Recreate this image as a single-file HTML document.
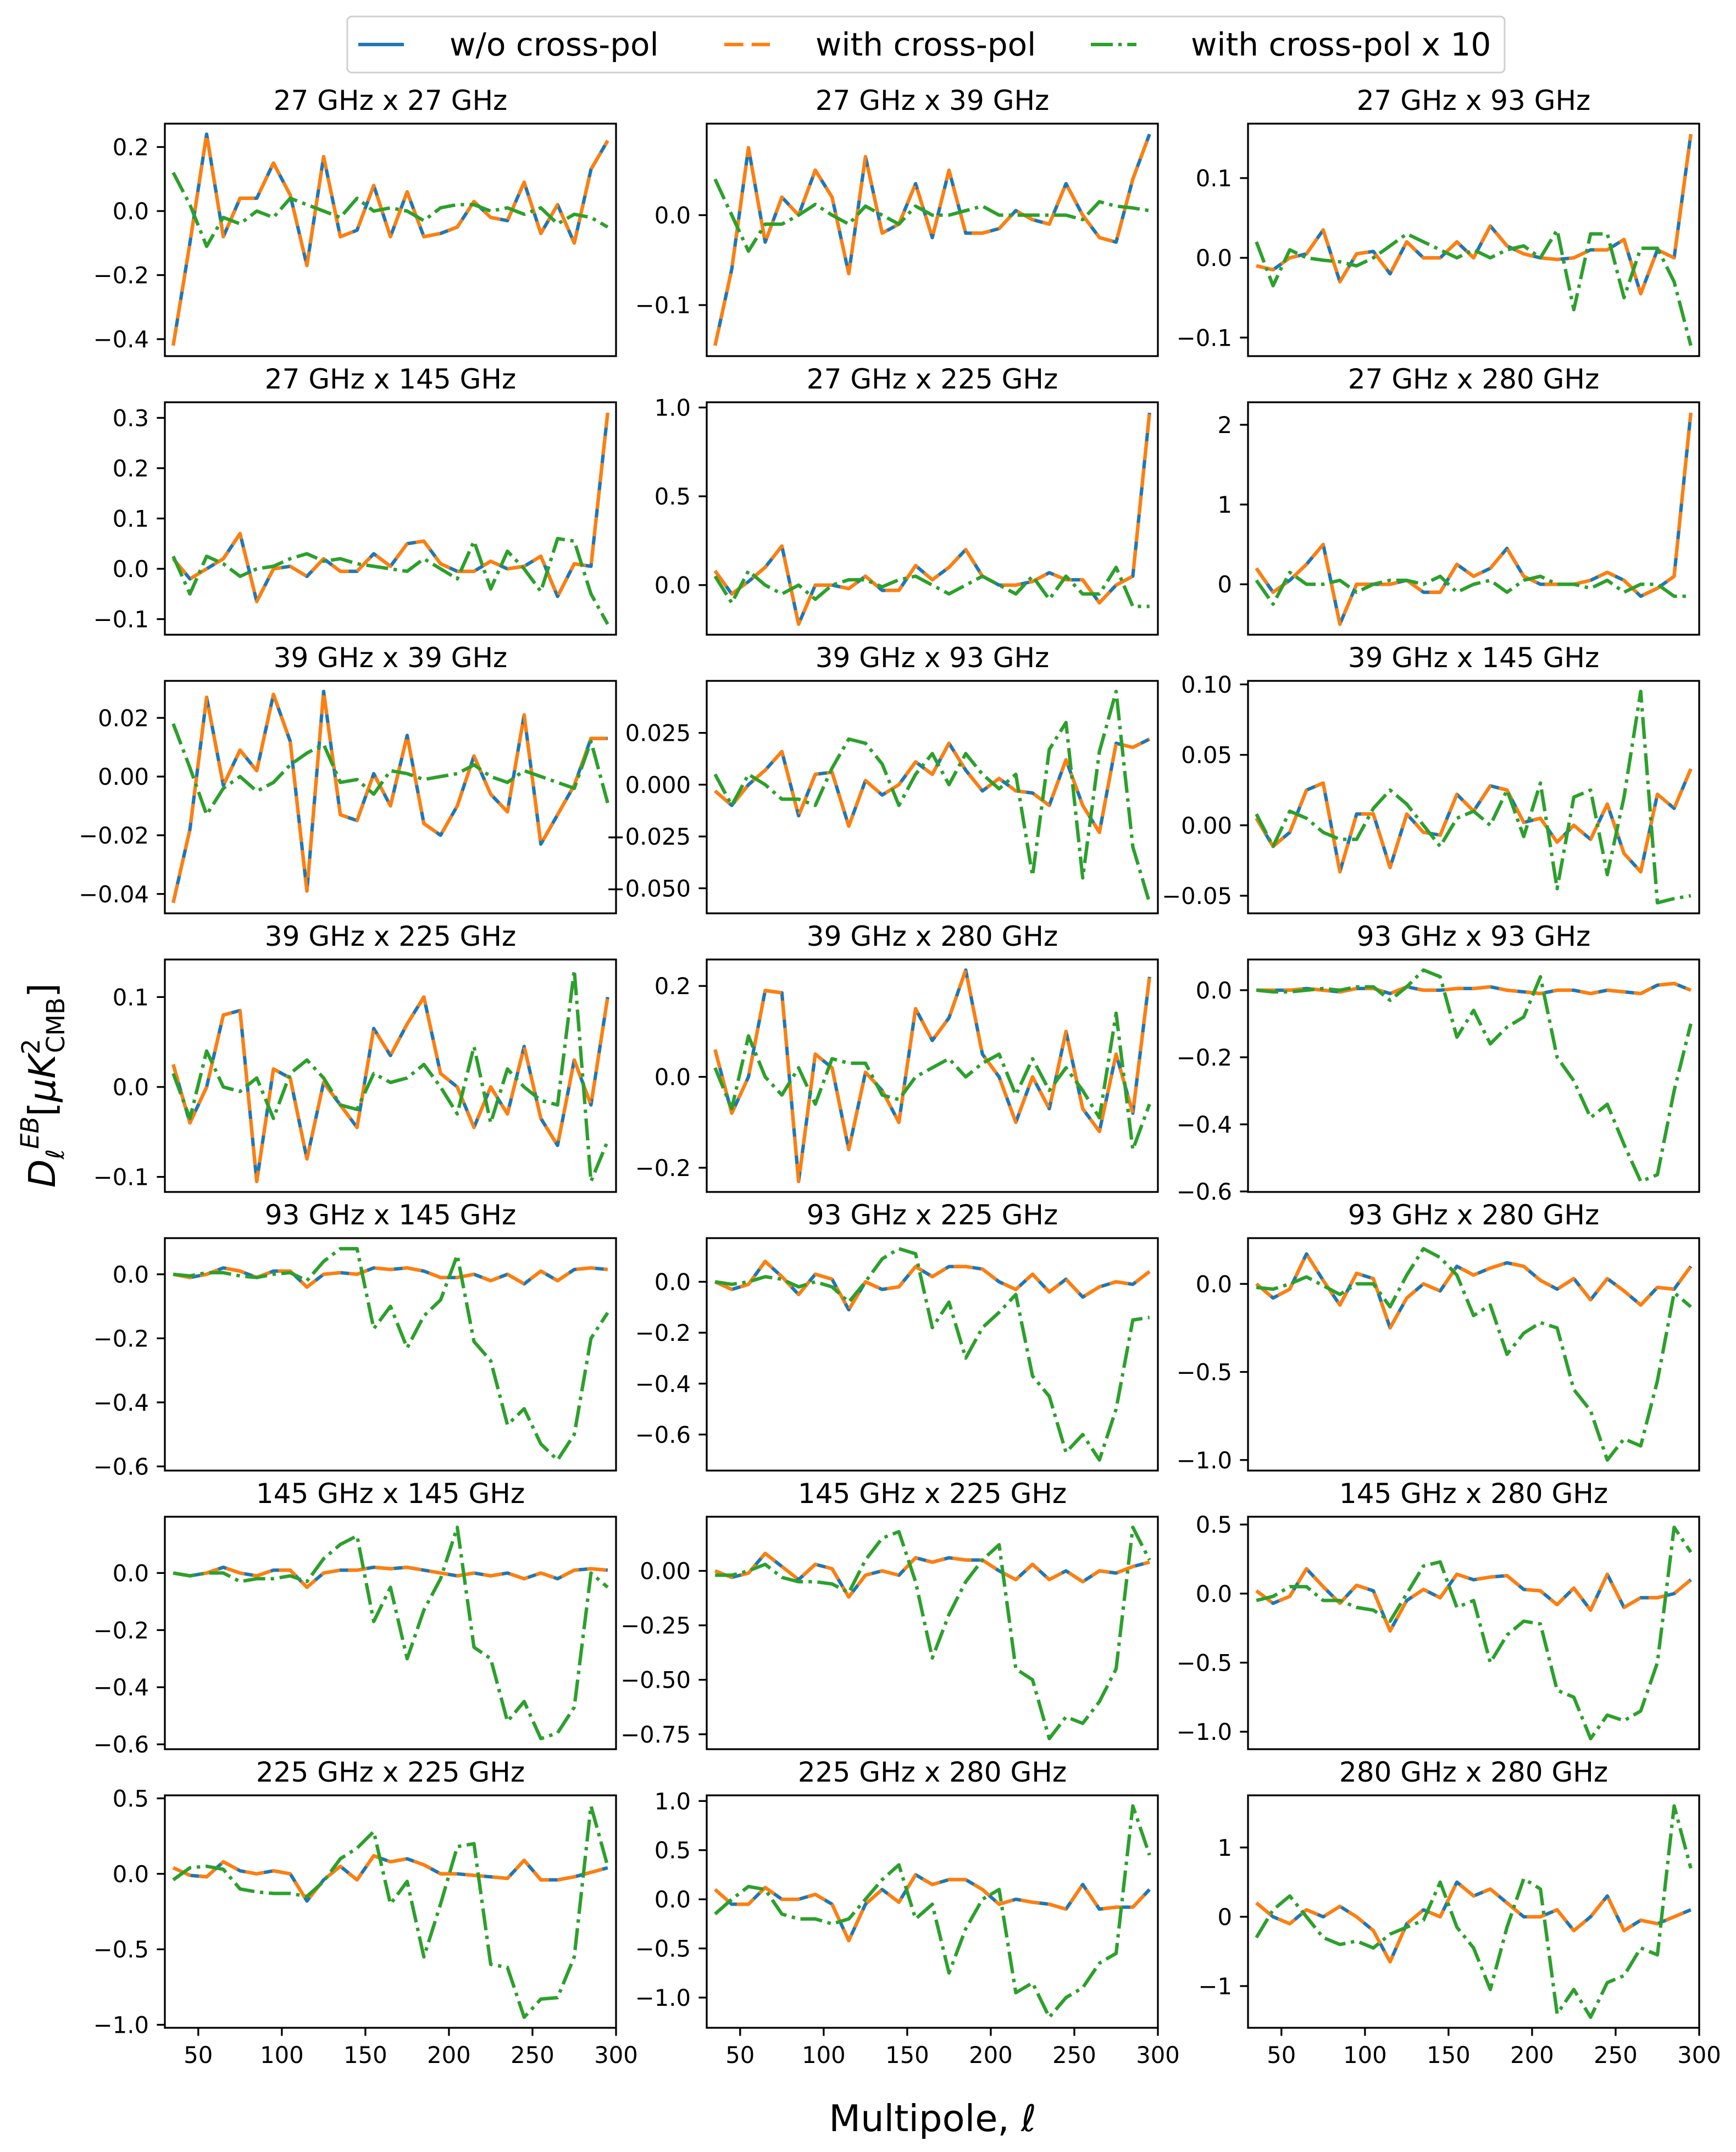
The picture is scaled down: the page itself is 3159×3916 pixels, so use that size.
<!DOCTYPE html>
<html><head><meta charset="utf-8"><style>
html,body{margin:0;padding:0;background:#fff;}
svg{display:block;font-family:"DejaVu Sans","Liberation Sans",sans-serif;}
</style></head><body>
<svg id="fig" width="3159" height="3916" viewBox="0 0 3159 3916" xmlns="http://www.w3.org/2000/svg">
<rect x="0" y="0" width="3159" height="3916" fill="#fff"/>
<g>
<rect x="632" y="30" width="2106" height="102" rx="8" fill="#fff" stroke="#d0d0d0" stroke-width="3"/>
<line x1="652" y1="81" x2="735" y2="81" stroke="#1f77b4" stroke-width="6.25"/>
<text x="818" y="101" font-size="58">w/o cross-pol</text>
<line x1="1318" y1="81" x2="1401" y2="81" stroke="#ff7f0e" stroke-width="6.25" stroke-dasharray="34.7 15"/>
<text x="1484" y="101" font-size="58">with cross-pol</text>
<line x1="1985" y1="81" x2="2068" y2="81" stroke="#2ca02c" stroke-width="6.25" stroke-dasharray="40 10 6.25 10"/>
<text x="2167" y="101" font-size="58">with cross-pol x 10</text>
</g>
<text x="1697" y="3878" font-size="67" text-anchor="middle">Multipole, <tspan font-style="italic">ℓ</tspan></text>
<text transform="translate(100,1975) rotate(-90)" font-size="67" text-anchor="middle"><tspan font-style="italic">D</tspan><tspan font-size="45" dy="16" font-style="italic">ℓ</tspan><tspan font-size="45" dy="-46" font-style="italic">EB</tspan><tspan dy="30">[</tspan><tspan font-style="italic">μK</tspan><tspan font-size="45" dy="-28">2</tspan><tspan font-size="45" dx="-26" dy="45">CMB</tspan><tspan dy="-17">]</tspan></text>
</svg>
<script>
const panelTitles = ["27 GHz x 27 GHz","27 GHz x 39 GHz","27 GHz x 93 GHz","27 GHz x 145 GHz","27 GHz x 225 GHz","27 GHz x 280 GHz","39 GHz x 39 GHz","39 GHz x 93 GHz","39 GHz x 145 GHz","39 GHz x 225 GHz","39 GHz x 280 GHz","93 GHz x 93 GHz","93 GHz x 145 GHz","93 GHz x 225 GHz","93 GHz x 280 GHz","145 GHz x 145 GHz","145 GHz x 225 GHz","145 GHz x 280 GHz","225 GHz x 225 GHz","225 GHz x 280 GHz","280 GHz x 280 GHz"];
const multipoles = [35,45,55,65,75,85,95,105,115,125,135,145,155,165,175,185,195,205,215,225,235,245,255,265,275,285,295];
const xTickValues = [50,100,150,200,250,300];
const xTickLabels = ["50","100","150","200","250","300"];
const yTickLabels = [
["−0.4","−0.2","0.0","0.2"],["−0.1","0.0"],["−0.1","0.0","0.1"],["−0.1","0.0","0.1","0.2","0.3"],["0.0","0.5","1.0"],["0","1","2"],
["−0.04","−0.02","0.00","0.02"],["−0.050","−0.025","0.000","0.025"],["−0.05","0.00","0.05","0.10"],["−0.1","0.0","0.1"],["−0.2","0.0","0.2"],["−0.6","−0.4","−0.2","0.0"],
["−0.6","−0.4","−0.2","0.0"],["−0.6","−0.4","−0.2","0.0"],["−1.0","−0.5","0.0"],["−0.6","−0.4","−0.2","0.0"],["−0.75","−0.50","−0.25","0.00"],["−1.0","−0.5","0.0","0.5"],
["−1.0","−0.5","0.0","0.5"],["−1.0","−0.5","0.0","0.5","1.0"],["−1","0","1"]];
const seriesWithout = [
[-0.42,-0.1,0.24,-0.08,0.04,0.04,0.15,0.05,-0.17,0.17,-0.08,-0.06,0.08,-0.08,0.06,-0.08,-0.07,-0.05,0.03,-0.02,-0.03,0.09,-0.07,0.02,-0.10,0.13,0.22],
[-0.145,-0.06,0.075,-0.03,0.02,0.0,0.05,0.02,-0.065,0.065,-0.02,-0.01,0.035,-0.025,0.05,-0.02,-0.02,-0.015,0.005,-0.005,-0.01,0.035,0.0,-0.025,-0.03,0.04,0.09],
[-0.01,-0.015,0.0,0.005,0.035,-0.03,0.005,0.008,-0.02,0.02,0.0,0.0,0.02,0.0,0.04,0.015,0.005,0.0,-0.002,0.0,0.01,0.01,0.023,-0.045,0.01,0.0,0.155],
[0.02,-0.02,0.0,0.02,0.07,-0.065,0.0,0.005,-0.015,0.02,-0.005,-0.005,0.03,0.005,0.05,0.055,0.01,-0.005,-0.005,0.015,0.0,0.005,0.025,-0.055,0.01,0.005,0.31],
[0.08,-0.05,0.02,0.1,0.22,-0.22,0.0,0.0,-0.02,0.05,-0.03,-0.03,0.11,0.03,0.1,0.2,0.05,0.0,0.0,0.02,0.07,0.03,0.03,-0.1,0.0,0.05,0.97],
[0.2,-0.1,0.05,0.25,0.5,-0.5,0.0,0.0,0.0,0.05,-0.1,-0.1,0.25,0.1,0.2,0.45,0.1,0.0,0.0,0.0,0.05,0.15,0.05,-0.15,-0.05,0.1,2.15],
[-0.043,-0.018,0.027,-0.003,0.009,0.002,0.028,0.012,-0.039,0.029,-0.013,-0.015,0.001,-0.01,0.014,-0.016,-0.02,-0.01,0.007,-0.006,-0.012,0.021,-0.023,-0.013,-0.003,0.013,0.013],
[-0.003,-0.01,0.0,0.007,0.016,-0.015,0.005,0.006,-0.02,0.002,-0.005,0.0,0.011,0.005,0.02,0.007,-0.003,0.003,-0.003,-0.004,-0.01,0.012,-0.01,-0.023,0.02,0.018,0.022],
[0.005,-0.015,-0.005,0.025,0.03,-0.033,0.008,0.008,-0.03,0.008,-0.005,-0.007,0.022,0.01,0.028,0.025,0.002,0.005,-0.012,0.0,-0.01,0.015,-0.02,-0.033,0.022,0.012,0.04],
[0.025,-0.04,0.0,0.08,0.085,-0.105,0.02,0.01,-0.08,0.005,-0.02,-0.045,0.065,0.035,0.07,0.1,0.015,0.0,-0.045,0.0,-0.03,0.045,-0.035,-0.065,0.03,-0.02,0.1],
[0.06,-0.08,0.0,0.19,0.185,-0.23,0.05,0.02,-0.16,0.01,-0.03,-0.1,0.15,0.08,0.13,0.235,0.05,0.0,-0.1,0.0,-0.07,0.1,-0.07,-0.12,0.05,-0.08,0.22],
[0,0,0,0.005,0,-0.005,0.005,0.005,-0.01,0.01,0.0,0.0,0.005,0.005,0.01,0.0,-0.005,-0.01,0.0,0.0,-0.01,0.0,-0.005,-0.01,0.015,0.02,0.0],
[0,-0.01,0.0,0.02,0.01,-0.01,0.01,0.01,-0.04,0.0,0.005,0.0,0.02,0.015,0.02,0.01,-0.01,-0.01,0.0,-0.02,0.0,-0.03,0.01,-0.02,0.015,0.02,0.015],
[0.0,-0.03,-0.01,0.08,0.02,-0.05,0.03,0.01,-0.11,0.0,-0.03,-0.02,0.06,0.02,0.06,0.06,0.05,0.0,-0.03,0.03,-0.04,0.01,-0.06,-0.02,0.0,-0.01,0.04],
[0.0,-0.08,-0.03,0.17,0.02,-0.12,0.06,0.03,-0.25,-0.08,0.0,-0.04,0.1,0.05,0.09,0.12,0.1,0.02,-0.03,0.03,-0.09,0.03,-0.04,-0.12,-0.02,-0.03,0.1],
[0.0,-0.01,0.0,0.02,0.0,-0.01,0.01,0.01,-0.05,0.0,0.01,0.01,0.02,0.015,0.02,0.01,0.0,-0.01,0.0,-0.01,0.0,-0.02,0.0,-0.02,0.01,0.015,0.01],
[0.0,-0.03,-0.01,0.08,0.02,-0.04,0.03,0.01,-0.12,-0.02,0.0,-0.02,0.06,0.04,0.06,0.05,0.05,0.0,-0.04,0.03,-0.04,0.0,-0.05,0.0,-0.01,0.02,0.04],
[0.02,-0.07,-0.02,0.18,0.05,-0.07,0.06,0.02,-0.27,-0.05,0.03,-0.03,0.14,0.1,0.12,0.13,0.03,0.02,-0.08,0.04,-0.12,0.14,-0.1,-0.03,-0.03,0.0,0.1],
[0.04,-0.01,-0.02,0.08,0.02,0.0,0.02,0.0,-0.18,-0.04,0.05,-0.04,0.12,0.08,0.1,0.06,0.0,0.0,-0.01,-0.02,-0.03,0.09,-0.04,-0.04,-0.02,0.01,0.04],
[0.1,-0.05,-0.05,0.12,0.0,0.0,0.05,-0.05,-0.42,-0.05,0.1,-0.03,0.25,0.15,0.2,0.2,0.1,-0.05,0.0,-0.03,-0.05,-0.1,0.15,-0.1,-0.08,-0.08,0.1],
[0.2,0.0,-0.1,0.1,0.0,0.15,0.0,-0.2,-0.65,-0.1,0.1,0.0,0.5,0.3,0.4,0.2,0.0,0.0,0.1,-0.2,0.0,0.3,-0.2,-0.05,-0.1,0.0,0.1]];
const seriesWith = seriesWithout.map(function(a){return a.slice();});
const seriesWithX10 = [
[0.12,0.02,-0.11,-0.02,-0.04,0.0,-0.02,0.04,0.02,0.0,-0.02,0.04,0.0,0.01,0.0,-0.03,0.01,0.02,0.02,0.0,0.01,-0.01,0.01,-0.04,-0.01,-0.02,-0.05],
[0.04,0.0,-0.04,-0.01,-0.01,0.0,0.012,0.0,-0.01,0.01,0.0,-0.01,0.01,0.0,0.0,0.005,0.01,0.0,0.0,0.0,0.0,0.0,-0.005,0.015,0.01,0.008,0.005],
[0.02,-0.035,0.01,0.0,-0.003,-0.005,-0.01,0.0,0.015,0.03,0.02,0.01,0.0,0.01,0.0,0.01,0.015,0.0,0.035,-0.065,0.03,0.03,-0.05,0.012,0.012,-0.03,-0.11],
[0.025,-0.05,0.025,0.01,-0.015,0.0,0.005,0.02,0.03,0.015,0.02,0.01,0.005,0.0,-0.005,0.02,0.0,-0.02,0.055,-0.04,0.035,0.0,-0.045,0.06,0.055,-0.05,-0.11],
[0.05,-0.1,0.08,0.0,-0.05,0.0,-0.08,0.0,0.03,0.03,-0.01,0.03,0.05,0.0,-0.05,0.0,0.05,0.0,-0.05,0.05,-0.08,0.05,-0.05,-0.05,0.1,-0.12,-0.12],
[0.05,-0.25,0.15,0.0,0.0,0.05,-0.1,0.0,0.05,0.05,0.0,0.1,-0.1,0.0,0.05,-0.1,0.05,0.1,0.0,0.0,-0.05,0.05,-0.1,0.0,0.0,-0.15,-0.15],
[0.018,0.003,-0.013,-0.004,0.0,-0.005,-0.002,0.004,0.008,0.011,-0.002,-0.001,-0.006,0.002,0.001,-0.001,0.0,0.001,0.004,0.0,-0.002,0.002,0.0,-0.002,-0.004,0.012,-0.009],
[0.005,-0.01,0.005,0.0,-0.007,-0.007,-0.01,0.008,0.022,0.02,0.01,-0.01,0.005,0.015,0.0,0.015,0.005,-0.002,0.005,-0.044,0.017,0.03,-0.045,0.016,0.045,-0.03,-0.057],
[0.008,-0.015,0.01,0.005,-0.005,-0.01,-0.01,0.012,0.025,0.015,0.0,-0.015,0.005,0.01,0.0,0.025,-0.008,0.03,-0.045,0.02,0.025,-0.035,0.02,0.095,-0.055,-0.052,-0.05],
[0.015,-0.035,0.04,0.0,-0.005,0.01,-0.035,0.015,0.03,0.01,-0.02,-0.025,0.015,0.005,0.01,0.025,0.0,-0.03,0.045,-0.04,0.02,0.0,-0.015,-0.02,0.13,-0.105,-0.06],
[0.02,-0.07,0.09,0.0,-0.04,0.02,-0.06,0.04,0.03,0.03,-0.04,-0.05,0.0,0.02,0.04,0.0,0.03,0.05,-0.04,0.04,-0.03,0.02,-0.03,-0.09,0.14,-0.16,-0.06],
[0.0,-0.005,-0.005,0.0,0.005,0.0,0.01,0.01,-0.03,0.01,0.06,0.04,-0.14,-0.06,-0.16,-0.11,-0.08,0.04,-0.2,-0.27,-0.38,-0.34,-0.46,-0.57,-0.55,-0.3,-0.1],
[0.0,-0.005,0.005,0.005,-0.005,-0.01,0.0,0.005,-0.02,0.04,0.08,0.08,-0.17,-0.1,-0.23,-0.13,-0.08,0.06,-0.21,-0.27,-0.47,-0.42,-0.53,-0.58,-0.5,-0.2,-0.12],
[0.0,-0.01,0.0,0.02,0.01,-0.02,0.0,-0.02,-0.08,0.0,0.09,0.13,0.11,-0.18,-0.08,-0.3,-0.18,-0.12,-0.05,-0.37,-0.45,-0.67,-0.6,-0.7,-0.5,-0.15,-0.14],
[-0.02,-0.03,0.0,0.04,-0.01,-0.06,0.0,0.0,-0.13,0.05,0.2,0.15,0.05,-0.18,-0.12,-0.4,-0.28,-0.22,-0.25,-0.6,-0.72,-1.0,-0.88,-0.92,-0.55,-0.05,-0.13],
[0.0,-0.01,0.0,0.0,-0.03,-0.02,-0.02,-0.01,-0.03,0.05,0.1,0.13,-0.17,-0.05,-0.3,-0.13,-0.02,0.16,-0.26,-0.3,-0.52,-0.45,-0.58,-0.56,-0.47,0.0,-0.05],
[-0.02,-0.02,0.0,0.03,-0.03,-0.05,-0.05,-0.06,-0.1,0.05,0.15,0.18,-0.05,-0.4,-0.2,-0.05,0.05,0.12,-0.45,-0.5,-0.77,-0.67,-0.7,-0.6,-0.45,0.2,0.05],
[-0.05,-0.02,0.05,0.05,-0.05,-0.05,-0.1,-0.12,-0.2,0.0,0.2,0.23,-0.1,-0.05,-0.5,-0.3,-0.2,-0.22,-0.7,-0.75,-1.05,-0.88,-0.92,-0.85,-0.5,0.48,0.3],
[-0.04,0.04,0.05,0.03,-0.1,-0.12,-0.13,-0.13,-0.15,-0.05,0.1,0.17,0.28,-0.2,-0.05,-0.55,-0.2,0.18,0.2,-0.6,-0.62,-0.95,-0.83,-0.82,-0.55,0.45,0.05],
[-0.15,0.0,0.13,0.1,-0.15,-0.2,-0.2,-0.25,-0.2,0.0,0.2,0.35,-0.2,-0.05,-0.75,-0.3,0.0,0.1,-0.95,-0.85,-1.2,-1.0,-0.9,-0.65,-0.55,0.95,0.45],
[-0.3,0.1,0.3,0.0,-0.3,-0.4,-0.35,-0.45,-0.25,-0.15,-0.05,0.5,-0.15,-0.45,-1.05,-0.15,0.55,0.4,-1.4,-1.05,-1.45,-0.95,-0.85,-0.45,-0.55,1.6,0.7]];

const NS='http://www.w3.org/2000/svg';
const fig=document.getElementById('fig');
const colLeft=[300,1286,2271], axW=821, axH=423, rowTop0=225, rowPitch=507;
const xMin=30,xMax=300;
function mk(tag,attrs,parent){const e=document.createElementNS(NS,tag);for(const k in attrs)e.setAttribute(k,attrs[k]);parent.appendChild(e);return e;}
function parseLab(s){return parseFloat(s.replace('−','-'));}

for(let p=0;p<21;p++){
  const r=Math.floor(p/3), c=p%3;
  const L=colLeft[c], T=rowTop0+r*rowPitch;
  const g=mk('g',{},fig);
  
  
  const all=[].concat(seriesWithout[p],seriesWith[p],seriesWithX10[p]);
  let lo=Math.min.apply(null,all), hi=Math.max.apply(null,all);
  const m=(hi-lo)*0.05; lo-=m; hi+=m;
  const xs=v=>L+(v-xMin)/(xMax-xMin)*axW;
  const ys=v=>T+axH-(v-lo)/(hi-lo)*axH;
  const defs=mk('clipPath',{id:'clip'+p},g);
  mk('rect',{x:L,y:T,width:axW,height:axH},defs);
  const title=mk('text',{x:L+axW/2,y:T-25,'font-size':50,'text-anchor':'middle'},g);
  title.textContent=panelTitles[p];
  
  
  // y ticks
  yTickLabels[p].forEach(function(lab){
    const v=parseLab(lab); const y=ys(v);
    if(y<T-1||y>T+axH+1) return;
    const t=mk('line',{x1:L-14.6,y1:y,x2:L,y2:y,stroke:'#000','stroke-width':3.3},g);
    
    
    const tx=mk('text',{x:L-29,y:y+15,'font-size':41.7,'text-anchor':'end'},g);
    tx.textContent=lab;
    
    
  });
  if(r===6){
    xTickValues.forEach(function(v,i){
      const x=xs(v);
      const t=mk('line',{x1:x,y1:T+axH,x2:x,y2:T+axH+14.6,stroke:'#000','stroke-width':3.3},g);
      
      
      const tx=mk('text',{x:x,y:T+axH+64,'font-size':41.7,'text-anchor':'middle'},g);
      tx.textContent=xTickLabels[i];
      
      
    });
  }
  const lines=[[seriesWithout[p],'#1f77b4',null,'line-without-cross-pol'],[seriesWith[p],'#ff7f0e','34.7 15','line-with-cross-pol'],[seriesWithX10[p],'#2ca02c','40 10 6.25 10','line-with-cross-pol-x10']];
  lines.forEach(function(s){
    const pts=s[0].map((v,i)=>xs(multipoles[i]).toFixed(1)+','+ys(v).toFixed(1)).join(' ');
    const a={points:pts,fill:'none',stroke:s[1],'stroke-width':6.25,'stroke-linejoin':'round','clip-path':'url(#clip'+p+')'};
    if(s[2]) a['stroke-dasharray']=s[2];
    const pl=mk('polyline',a,g);
    
    
  });
  const fr=mk('rect',{x:L,y:T,width:axW,height:axH,fill:'none',stroke:'#000','stroke-width':3.3},g);
  
  
}
</script>
</body></html>
